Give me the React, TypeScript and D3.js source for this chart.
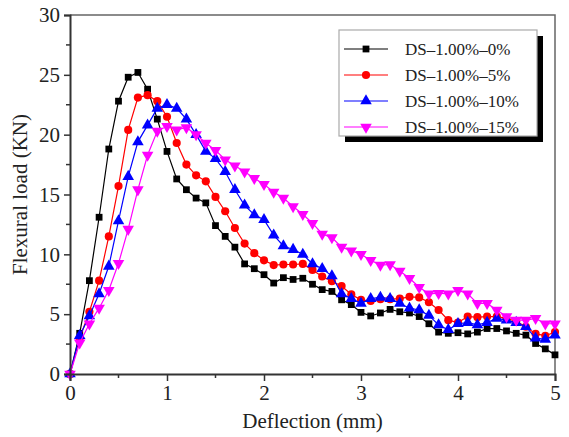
import { useRef, useEffect } from 'react';
import * as d3 from 'd3';

// deflection (mm), shared by all series
const deflection = [
  0, 0.1, 0.2, 0.3, 0.4, 0.5, 0.6, 0.7, 0.8, 0.9,
  1.0, 1.1, 1.2, 1.3, 1.4, 1.5, 1.6, 1.7, 1.8, 1.9,
  2.0, 2.1, 2.2, 2.3, 2.4, 2.5, 2.6, 2.7, 2.8, 2.9,
  3.0, 3.1, 3.2, 3.3, 3.4, 3.5, 3.6, 3.7, 3.8, 3.9,
  4.0, 4.1, 4.2, 4.3, 4.4, 4.5, 4.6, 4.7, 4.8, 4.9, 5.0,
];

const load0 = [
  0, 3.4, 7.8, 13.1, 18.8, 22.8, 24.8, 25.2, 23.8, 21.3,
  18.6, 16.3, 15.4, 14.7, 14.3, 12.4, 11.5, 10.6, 9.2, 8.8,
  8.3, 7.6, 8.05, 7.9, 8.0, 7.5, 7.05, 6.9, 6.2, 5.8,
  5.15, 4.85, 5.1, 5.4, 5.2, 5.1, 4.8, 4.2, 3.5, 3.4,
  3.45, 3.35, 3.5, 3.8, 3.8, 3.6, 3.4, 3.25, 2.55, 2.1, 1.6,
];

const load5 = [
  0, 3.0, 5.2, 7.8, 11.5, 15.7, 20.4, 23.1, 23.3, 22.8,
  21.5, 19.3, 17.5, 16.6, 16.1, 14.8, 13.6, 12.2, 10.9, 10.1,
  9.5, 9.1, 9.15, 9.15, 9.2, 8.7, 8.15, 7.75, 7.35, 6.65,
  6.2, 6.1, 6.25, 6.25, 6.3, 6.45, 6.4, 6.0, 5.35, 4.5,
  4.3, 4.8, 4.75, 4.8, 4.8, 4.65, 4.4, 3.95, 3.35, 3.2, 3.5,
];

const load10 = [
  0, 3.2, 4.85, 6.7, 9.0, 12.8, 16.5, 19.4, 20.8, 22.2,
  22.5, 22.2, 21.3, 20.0, 18.6, 18.0, 16.9, 15.4, 14.1, 13.3,
  12.9, 11.6, 10.7, 10.4, 10.0, 9.2, 8.8, 8.2, 6.7, 6.3,
  5.9, 6.3, 6.4, 6.3, 5.9, 5.5, 5.35, 4.9, 4.1, 3.7,
  4.2, 4.3, 4.1, 4.3, 4.65, 4.5, 4.3, 3.95, 3.0, 2.9, 3.25,
];

const load15 = [
  0, 2.6, 4.2, 5.5, 7.0, 9.25, 12.1, 15.4, 18.3, 20.3,
  20.7, 20.4, 20.6, 20.0, 19.3, 18.7, 17.9, 17.4, 16.9, 16.35,
  15.85, 15.2, 14.7, 14.0, 13.35, 12.6, 11.7, 11.4, 10.6, 10.3,
  10.0, 9.5, 9.1, 9.15, 8.6, 8.0, 7.25, 6.7, 6.75, 6.7,
  7.0, 6.7, 5.9, 5.9, 5.35, 4.8, 4.5, 4.5, 4.65, 4.2, 4.2,
];

const seriesNames = ['DS–1.00%–0%', 'DS–1.00%–5%', 'DS–1.00%–10%', 'DS–1.00%–15%'];
const seriesLoads = [load0, load5, load10, load15];
const seriesColors = ['#000000', '#ff0000', '#0000ff', '#ff00ff'];

const xTicks = [0, 1, 2, 3, 4, 5];
const yTicks = [0, 5, 10, 15, 20, 25, 30];

const FONT = '"Liberation Serif", "Times New Roman", serif';

const symbolFor = (i: number) => {
  if (i === 0) return d3.symbol().type(d3.symbolSquare).size(46)();
  if (i === 1) return d3.symbol().type(d3.symbolCircle).size(52)();
  return d3.symbol().type(d3.symbolTriangle).size(58)();
};

export default function App() {
  const ref = useRef<SVGSVGElement>(null);
  const width = 569;
  const height = 437;
  const margin = { top: 15, right: 14, bottom: 63, left: 70 };

  useEffect(() => {
    const svg = d3.select(ref.current);
    svg.selectAll('*').remove();

    const x = d3.scaleLinear().domain([0, 5]).range([margin.left, width - margin.right]);
    const y = d3.scaleLinear().domain([0, 30]).range([height - margin.bottom, margin.top]);

    // frame top/right
    svg
      .append('path')
      .attr('d', `M${x(0)},${y(30)}H${x(5)}V${y(0)}`)
      .attr('fill', 'none')
      .attr('stroke', '#666')
      .attr('stroke-width', 1.5);

    // series
    seriesLoads.forEach((loads, i) => {
      const pts = deflection.map((d, k) => [d, loads[k]] as [number, number]);
      const line = d3
        .line<[number, number]>()
        .x((d) => x(d[0]))
        .y((d) => y(d[1]));
      const g = svg.append('g');
      g.append('path')
        .attr('d', line(pts))
        .attr('fill', 'none')
        .attr('stroke', seriesColors[i])
        .attr('stroke-width', 1.2);
      g.selectAll('path.m')
        .data(pts)
        .join('path')
        .attr('class', 'm')
        .attr('d', symbolFor(i))
        .attr('transform', (d) => `translate(${x(d[0])},${y(d[1])})${i === 3 ? ' rotate(180)' : ''}`)
        .attr('fill', seriesColors[i]);
    });

    // axes
    const xAxis = svg
      .append('g')
      .attr('transform', `translate(0,${y(0)})`)
      .call(d3.axisBottom(x).tickValues(xTicks).tickSize(7).tickPadding(4).tickFormat(d3.format('d')));
    xAxis
      .selectAll('.tick.minor')
      .data(d3.range(0.5, 5, 1))
      .enter()
      .append('line')
      .attr('x1', (d) => x(d))
      .attr('x2', (d) => x(d))
      .attr('y1', 0)
      .attr('y2', 4)
      .attr('stroke', '#333')
      .attr('stroke-width', 1.5);

    const yAxis = svg
      .append('g')
      .attr('transform', `translate(${x(0)},0)`)
      .call(d3.axisLeft(y).tickValues(yTicks).tickSize(6).tickPadding(4).tickFormat(d3.format('d')));
    yAxis
      .selectAll('.tick.minor')
      .data(d3.range(2.5, 30, 5))
      .enter()
      .append('line')
      .attr('x1', 0)
      .attr('x2', -4)
      .attr('y1', (d) => y(d))
      .attr('y2', (d) => y(d))
      .attr('stroke', '#333')
      .attr('stroke-width', 1.5);

    [xAxis, yAxis].forEach((a) => {
      a.select('.domain').attr('stroke', '#333').attr('stroke-width', 2);
      a.selectAll('.tick line').attr('stroke', '#333').attr('stroke-width', 1.5);
      a.selectAll('.tick text')
        .attr('font-family', FONT)
        .attr('font-size', 21)
        .attr('fill', '#222');
    });

    // axis titles
    svg
      .append('text')
      .attr('x', (x(0) + x(5)) / 2)
      .attr('y', 428)
      .attr('text-anchor', 'middle')
      .attr('font-family', FONT)
      .attr('font-size', 21)
      .attr('fill', '#222')
      .text('Deflection (mm)');
    svg
      .append('text')
      .attr('transform', `translate(27,${(y(0) + y(30)) / 2}) rotate(-90)`)
      .attr('text-anchor', 'middle')
      .attr('font-family', FONT)
      .attr('font-size', 21)
      .attr('fill', '#222')
      .text('Flexural load (KN)');

    // legend
    const lg = svg.append('g');
    lg.append('rect')
      .attr('x', 345)
      .attr('y', 36)
      .attr('width', 198)
      .attr('height', 106)
      .attr('fill', '#000');
    lg.append('rect')
      .attr('x', 339)
      .attr('y', 30)
      .attr('width', 198)
      .attr('height', 106)
      .attr('fill', '#fff')
      .attr('stroke', '#aaa')
      .attr('stroke-width', 1.2);
    seriesNames.forEach((name, i) => {
      const cy = 49 + i * 26;
      lg.append('line')
        .attr('x1', 344)
        .attr('x2', 388)
        .attr('y1', cy)
        .attr('y2', cy)
        .attr('stroke', seriesColors[i])
        .attr('stroke-width', 1.2);
      lg.append('path')
        .attr('d', symbolFor(i))
        .attr('transform', `translate(366,${cy})${i === 3 ? ' rotate(180)' : ''}`)
        .attr('fill', seriesColors[i]);
      lg.append('text')
        .attr('x', 405)
        .attr('y', cy + 6)
        .attr('font-family', FONT)
        .attr('font-size', 17)
        .attr('fill', '#222')
        .text(name);
    });
  }, []);

  return (
    <svg
      ref={ref}
      width={width}
      height={height}
      style={{ position: 'absolute', left: 0, top: 0, background: '#fff' }}
    />
  );
}
